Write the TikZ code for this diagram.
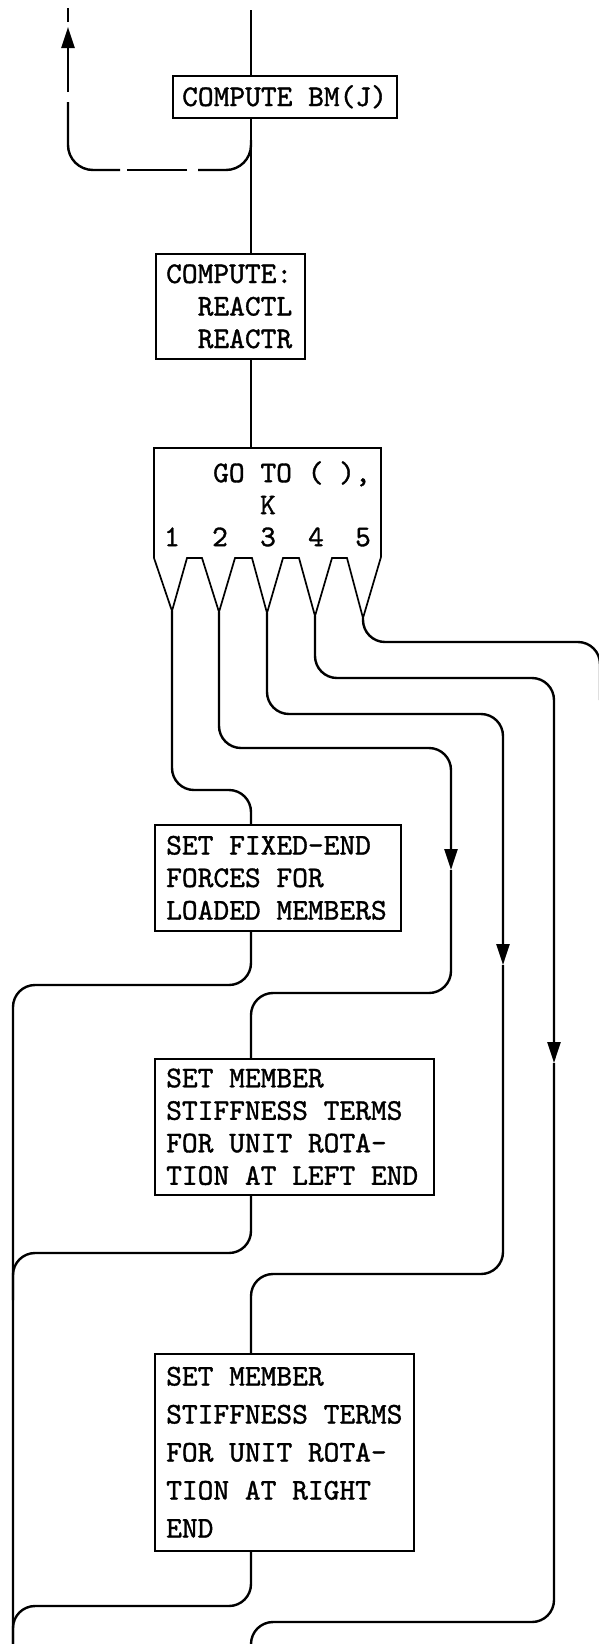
\documentclass[tikz,border=0pt]{standalone}
\usepackage{fontspec}
\newfontfamily\tw{lmmono10-regular.otf}[FakeBold=1.2]
\usetikzlibrary{arrows.meta}
\newcommand\tp{\rule{0pt}{27.3pt}}
\newcommand\bt{\rule[-9pt]{0pt}{9pt}}
\begin{document}
\begin{tikzpicture}[x=1pt,y=-1pt,
  fbox/.style={draw, line width=1.7pt, inner sep=0pt, anchor=north west},
  ftxt/.style={font=\fontsize{30}{32.5}\selectfont\tw, align=left, inner sep=0pt, anchor=west},
  ctxt/.style={font=\fontsize{30}{32.5}\selectfont\tw, inner sep=0pt},
  mainln/.style={line width=1.6pt},
  conn/.style={line width=2.4pt, rounded corners=22pt},
  arr/.style={-{Triangle[length=21pt,width=13pt]}}]
\useasboundingbox (0,0) rectangle (599,1644);
\fill[white] (0,0) rectangle (599,1644);

% boxes
\node[fbox, minimum width=224pt, minimum height=42pt] (top) at (172,75) {};
\node[ftxt] (toptxt) at ([xshift=10pt]top.west) {\tp\bt COMPUTE BM(J)};

\node[fbox, minimum width=149pt, minimum height=105pt] (react) at (155,253) {};
\node[ftxt] (reacttxt) at ([xshift=11pt]react.west) {\tp COMPUTE:\\\hspace*{31.5pt}REACTL\\\hspace*{31.5pt}REACTR\bt};

\node[fbox, minimum width=246pt, minimum height=106pt] (b1) at (154,824) {};
\node[ftxt] (b1txt) at ([xshift=12pt]b1.west) {\tp SET FIXED-END\\FORCES FOR\\LOADED MEMBERS\bt};

\node[fbox, minimum width=279pt, minimum height=136pt] (b2) at (154,1058) {};
\node[ftxt] (b2txt) at ([xshift=12pt]b2.west) {\tp SET MEMBER\\STIFFNESS TERMS\\FOR UNIT ROTA-\\TION AT LEFT END\bt};

\node[fbox, minimum width=259pt, minimum height=197pt] (b3) at (154,1353) {};
\node[ftxt, font=\fontsize{30}{38}\selectfont\tw] (b3txt) at ([xshift=12pt]b3.west) {\tp SET MEMBER\\STIFFNESS TERMS\\FOR UNIT ROTA-\\TION AT RIGHT\\END\bt};

% computed GO TO shape
\coordinate (m0) at (251,10);
\coordinate (gtop) at (251,448);
\coordinate (t1) at (172,611);
\coordinate (t2) at (219,612);
\coordinate (t3) at (267,613);
\coordinate (t4) at (315,616);
\coordinate (t5) at (363,618);
\draw[line width=1.7pt, line join=miter] (154,448) -- (381,448) -- (381,557) -- (t5) -- (347,558) -- (332,558)
  -- (t4) -- (299,558) -- (283,558) -- (t3) -- (252,558) -- (235,558) -- (t2) -- (202,558) -- (187,558)
  -- (t1) -- (154,558) -- cycle;
\node[ftxt] (gotxt) at (213,473) {\tp\bt GO TO ( ),};
\node[ctxt] (gok) at (268,505) {\tp\bt K};
\node[ctxt] (n1) at (172,537) {\tp\bt 1};
\node[ctxt] (n2) at (220,537) {\tp\bt 2};
\node[ctxt] (n3) at (268,537) {\tp\bt 3};
\node[ctxt] (n4) at (316,537) {\tp\bt 4};
\node[ctxt] (n5) at (363,537) {\tp\bt 5};

% main line
\draw[mainln] (m0) -- (m0 |- top.north);
\draw[mainln] (m0 |- top.south) -- (m0 |- react.north);
\draw[mainln] (m0 |- react.south) -- (gtop);

% dashed return loop
\coordinate (la) at (251,140);
\coordinate (lz) at (68,8);
\draw[conn, rounded corners=25pt] (la) -- (251,170) -- (198,170);
\draw[conn] (187,170) -- (127,170);
\draw[conn, rounded corners=25pt] (120,170) -- (68,170) -- (68,102);
\draw[conn, arr] (68,92) -- (68,27);
\draw[conn] (68,22) -- (lz);

% branch 1
\draw[conn] (t1) -- (172,790) -- (251,790) -- (m0 |- b1.north);
% branch 2
\coordinate (a2) at (451,870);
\draw[conn, arr] (t2) -- (219,748) -- (451,748) -- (a2);
\draw[conn] (a2) -- (451,993) -- (251,993) -- (m0 |- b2.north);
% branch 3
\coordinate (a3) at (503,965);
\draw[conn, arr] (t3) -- (267,714) -- (503,714) -- (a3);
\draw[conn] (a3) -- (503,1274) -- (251,1274) -- (m0 |- b3.north);
% branch 4
\coordinate (a4) at (554,1063);
\coordinate (e4) at (251,1660);
\draw[conn, arr] (t4) -- (315,678) -- (554,678) -- (a4);
\draw[conn] (a4) -- (554,1622) -- (251,1622) -- (e4);
% branch 5
\coordinate (e5) at (600,700);
\draw[conn] (t5) -- (363,642) -- (600,642) -- (e5);

% exits to the left line
\coordinate (eL) at (13,1660);
\draw[conn] (m0 |- b1.south) -- (251,985) -- (13,985) -- (eL);
\draw[conn] (m0 |- b2.south) -- (251,1253) -- (13,1253) -- (13,1300);
\draw[conn] (m0 |- b3.south) -- (251,1606) -- (13,1606) -- (13,1650);
\end{tikzpicture}
\end{document}
